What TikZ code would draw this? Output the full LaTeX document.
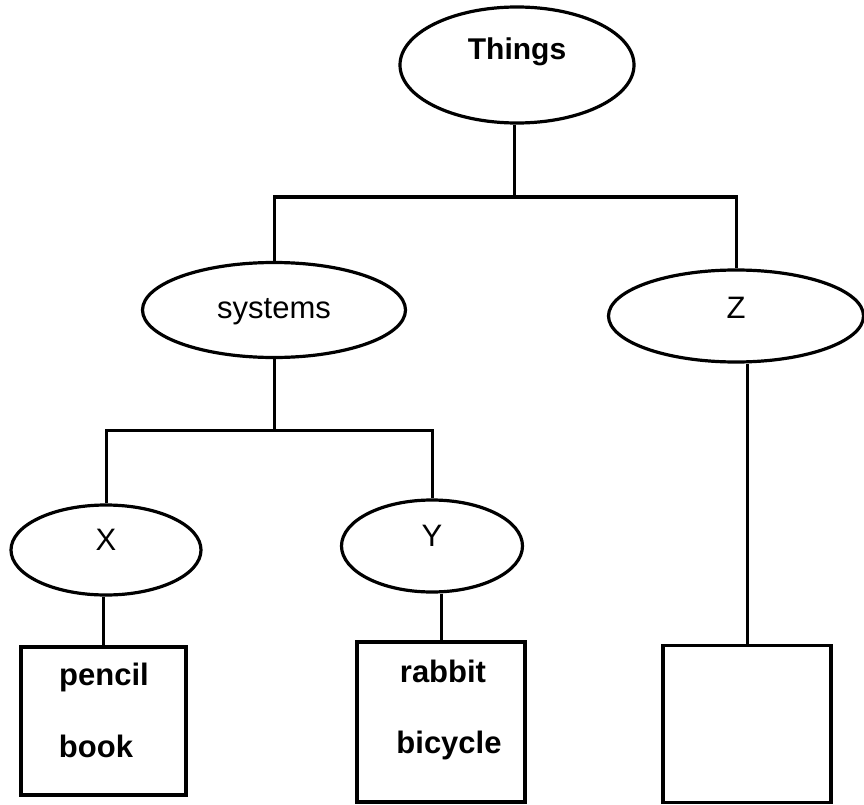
\documentclass[tikz,border=0pt]{standalone}
\usepackage{fontspec}
\setmainfont{Liberation Sans}
\usetikzlibrary{shapes.geometric}
\begin{document}
\begin{tikzpicture}[x=1pt,y=-1pt,
  every node/.style={font=\fontsize{31}{36}\selectfont},
  ell/.style={draw,ellipse,line width=3.2pt,inner sep=0pt,text height=22pt},
  itembox/.style={draw,rectangle,line width=3.2pt,inner sep=0pt},
  conn/.style={line width=3pt},
  lbl/.style={anchor=base,font=\fontsize{31}{36}\selectfont\bfseries}]
\useasboundingbox (0,0) rectangle (864,805);
% ellipses
\node[ell,minimum width=234pt,minimum height=116pt,text depth=33pt,font=\fontsize{30}{36}\selectfont\bfseries] (things) at (517,65) {Things};
\node[ell,minimum width=263pt,minimum height=95pt,text depth=5pt] (sys) at (274,310) {systems};
\node[ell,minimum width=255pt,minimum height=92pt,text depth=17pt] (z) at (736,316) {Z};
\node[ell,minimum width=190pt,minimum height=90pt,text depth=22pt] (x) at (106,550) {X};
\node[ell,minimum width=181pt,minimum height=92pt,text depth=22pt] (y) at (432,546) {Y};
% boxes
\node[itembox,minimum width=165pt,minimum height=148pt] (b1) at (103.5,721) {};
\node[itembox,minimum width=168pt,minimum height=160pt] (b2) at (441,722) {};
\node[itembox,minimum width=168pt,minimum height=157pt] (b3) at (747,724) {};
% box texts
\node[lbl] (pencil) at (104,685) {pencil};
\node[lbl] (book) at (96,757) {book};
\node[lbl] (rabbit) at (443,682) {rabbit};
\node[lbl] (bicycle) at (449,753) {bicycle};
% junctions
\coordinate (j1) at (514,197);
\coordinate (j2) at (274,430);
% connectors
\draw[conn] (j1 |- things.south) -- (j1);
\draw[conn] (sys.north) |- (j1) -| (z.north);
\draw[conn] (sys.south) -- (j2);
\draw[conn] (x.north) |- (j2) -| (y.north);
\draw[conn] (b1.north) -- (b1.north |- x.south);
\draw[conn] (b2.north) -- (b2.north |- y.south);
\draw[conn] (b3.north) -- (b3.north |- z.south);
\end{tikzpicture}
\end{document}
